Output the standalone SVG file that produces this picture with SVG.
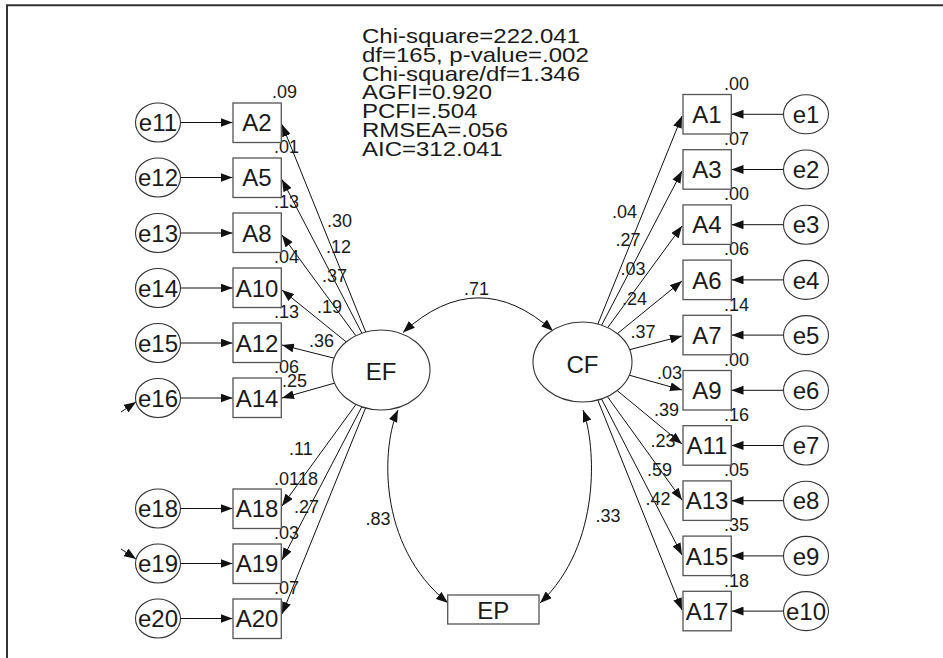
<svg xmlns="http://www.w3.org/2000/svg" width="943" height="658" viewBox="0 0 943 658">
<style>
text{font-family:"Liberation Sans",Arial,sans-serif;fill:#1a1a1a}
.box{fill:#fff;stroke:#555;stroke-width:1.3}
.ell{fill:#fff;stroke:#333;stroke-width:1.1}
.nl{font-size:24px;text-anchor:middle}
.num{font-size:18px}
.stat{font-size:20px}
.ln{fill:none;stroke:#111;stroke-width:1}
</style>
<defs>
<marker id="ah" viewBox="0 0 12 9" markerWidth="12" markerHeight="9" refX="12" refY="4.5" orient="auto-start-reverse" markerUnits="userSpaceOnUse">
<path d="M0,0 L12,4.5 L0,9 z" fill="#111"/>
</marker>
</defs>
<rect width="943" height="658" fill="#fff"/>
<g id="frame" stroke="#333" stroke-width="2" fill="none">
<path d="M7,658 V5.3 H943"/>
</g>
<g id="fit-stats" transform="translate(362,0) scale(1.2,1)">
<text class="stat" x="0" y="43">Chi-square=222.041</text>
<text class="stat" x="0" y="61.8">df=165, p-value=.002</text>
<text class="stat" x="0" y="80.6">Chi-square/df=1.346</text>
<text class="stat" x="0" y="99.4">AGFI=0.920</text>
<text class="stat" x="0" y="118.2">PCFI=.504</text>
<text class="stat" x="0" y="137">RMSEA=.056</text>
<text class="stat" x="0" y="155.8">AIC=312.041</text>
</g>
<g id="connectors">
<path class="ln" marker-end="url(#ah)" d="M180.5,122.5 H232.5"/>
<path class="ln" marker-end="url(#ah)" d="M180.5,177.5 H232.5"/>
<path class="ln" marker-end="url(#ah)" d="M180.5,233 H232.5"/>
<path class="ln" marker-end="url(#ah)" d="M180.5,288 H232.5"/>
<path class="ln" marker-end="url(#ah)" d="M180.5,343 H232.5"/>
<path class="ln" marker-end="url(#ah)" d="M180.5,398 H232.5"/>
<path class="ln" marker-end="url(#ah)" d="M180.5,508.5 H232.5"/>
<path class="ln" marker-end="url(#ah)" d="M180.5,563.5 H232.5"/>
<path class="ln" marker-end="url(#ah)" d="M180.5,618.5 H232.5"/>
<path class="ln" marker-end="url(#ah)" d="M121,412 L136,402"/>
<path class="ln" marker-end="url(#ah)" d="M121,549 L136,559"/>
<path class="ln" marker-end="url(#ah)" d="M783.5,114.3 H731.5"/>
<path class="ln" marker-end="url(#ah)" d="M783.5,169.5 H731.5"/>
<path class="ln" marker-end="url(#ah)" d="M783.5,224.7 H731.5"/>
<path class="ln" marker-end="url(#ah)" d="M783.5,279.9 H731.5"/>
<path class="ln" marker-end="url(#ah)" d="M783.5,335.1 H731.5"/>
<path class="ln" marker-end="url(#ah)" d="M783.5,390.3 H731.5"/>
<path class="ln" marker-end="url(#ah)" d="M783.5,445.5 H731.5"/>
<path class="ln" marker-end="url(#ah)" d="M783.5,500.7 H731.5"/>
<path class="ln" marker-end="url(#ah)" d="M783.5,555.9 H731.5"/>
<path class="ln" marker-end="url(#ah)" d="M783.5,611.1 H731.5"/>
<path class="ln" marker-end="url(#ah)" d="M365.7,332 L282,124.5"/>
<path class="ln" marker-end="url(#ah)" d="M361.9,333.2 L282,179.5"/>
<path class="ln" marker-end="url(#ah)" d="M355.8,335.7 L282,235"/>
<path class="ln" marker-end="url(#ah)" d="M346.2,341.9 L282,290"/>
<path class="ln" marker-end="url(#ah)" d="M334.2,358.2 L282,345"/>
<path class="ln" marker-end="url(#ah)" d="M334.7,383.1 L282,398"/>
<path class="ln" marker-end="url(#ah)" d="M356,404.4 L282,506"/>
<path class="ln" marker-end="url(#ah)" d="M361.8,406.8 L282,560"/>
<path class="ln" marker-end="url(#ah)" d="M365.6,408 L282,614"/>
<path class="ln" marker-end="url(#ah)" d="M597.9,324 L682,116"/>
<path class="ln" marker-end="url(#ah)" d="M601.7,325.1 L682,171"/>
<path class="ln" marker-end="url(#ah)" d="M607.7,327.6 L682,226"/>
<path class="ln" marker-end="url(#ah)" d="M617.4,333.6 L682,281"/>
<path class="ln" marker-end="url(#ah)" d="M629.6,349.7 L682,336"/>
<path class="ln" marker-end="url(#ah)" d="M629.3,375.2 L682,390"/>
<path class="ln" marker-end="url(#ah)" d="M617.2,390.6 L682,444"/>
<path class="ln" marker-end="url(#ah)" d="M607.4,396.6 L682,500"/>
<path class="ln" marker-end="url(#ah)" d="M601.5,398.9 L682,555"/>
<path class="ln" marker-end="url(#ah)" d="M597.8,400 L682,610"/>
<path class="ln" marker-start="url(#ah)" marker-end="url(#ah)" d="M403,332.5 Q478,264 553,331"/>
<path class="ln" marker-start="url(#ah)" marker-end="url(#ah)" d="M398,410 C382,445 376,545 448,603"/>
<path class="ln" marker-start="url(#ah)" marker-end="url(#ah)" d="M583,410 C596,445 602,545 540,603"/>
</g>
<g id="labels">
<text class="num" x="272" y="98.2">.09</text>
<text class="num" x="274" y="153.2">.01</text>
<text class="num" x="274" y="208.2">.13</text>
<text class="num" x="274" y="263.2">.04</text>
<text class="num" x="274" y="318.2">.13</text>
<text class="num" x="274" y="373.2">.06</text>
<text class="num" x="274" y="484.8">.01</text>
<text class="num" x="293" y="484.8">.18</text>
<text class="num" x="274" y="538.8">.03</text>
<text class="num" x="274" y="593.8">.07</text>
<text class="num" x="327" y="226.5">.30</text>
<text class="num" x="326" y="253.2">.12</text>
<text class="num" x="322" y="281.5">.37</text>
<text class="num" x="317" y="313.2">.19</text>
<text class="num" x="309" y="346.5">.36</text>
<text class="num" x="282" y="386.5">.25</text>
<text class="num" x="289" y="454.8">.11</text>
<text class="num" x="294" y="513.2">.27</text>
<text class="num" x="724" y="89.8">.00</text>
<text class="num" x="724" y="145">.07</text>
<text class="num" x="724" y="200.2">.00</text>
<text class="num" x="724" y="255.4">.06</text>
<text class="num" x="724" y="310.6">.14</text>
<text class="num" x="724" y="365.8">.00</text>
<text class="num" x="724" y="421">.16</text>
<text class="num" x="724" y="476.2">.05</text>
<text class="num" x="724" y="531.4">.35</text>
<text class="num" x="724" y="586.6">.18</text>
<text class="num" x="612" y="218.2">.04</text>
<text class="num" x="615.5" y="245.8">.27</text>
<text class="num" x="620.5" y="274.8">.03</text>
<text class="num" x="622" y="304.8">.24</text>
<text class="num" x="630.5" y="338.2">.37</text>
<text class="num" x="657" y="379.2">.03</text>
<text class="num" x="654" y="415.8">.39</text>
<text class="num" x="650.5" y="446.5">.23</text>
<text class="num" x="647" y="475.8">.59</text>
<text class="num" x="645.5" y="504.8">.42</text>
<text class="num" x="464" y="294.8">.71</text>
<text class="num" x="365.5" y="524.8">.83</text>
<text class="num" x="595.5" y="521.5">.33</text>
</g>
<g id="EF"><ellipse class="ell" cx="381" cy="370" rx="49" ry="40"/><text class="nl" x="381" y="380">EF</text></g>
<g id="CF"><ellipse class="ell" cx="582.5" cy="362" rx="49.5" ry="40"/><text class="nl" x="582.5" y="372.5">CF</text></g>
<g id="EP"><rect class="box" x="447.7" y="595" width="91.3" height="29"/><text class="nl" x="493.3" y="618.5">EP</text></g>
<g id="A2"><rect class="box" x="233" y="103" width="48.3" height="39.5"/><text class="nl" x="257" y="131.2">A2</text></g>
<g id="A5"><rect class="box" x="233" y="158" width="48.3" height="39.5"/><text class="nl" x="257" y="186.2">A5</text></g>
<g id="A8"><rect class="box" x="233" y="213" width="48.3" height="39.5"/><text class="nl" x="257" y="241.7">A8</text></g>
<g id="A10"><rect class="box" x="233" y="268" width="48.3" height="39.5"/><text class="nl" x="257" y="296.7">A10</text></g>
<g id="A12"><rect class="box" x="233" y="323" width="48.3" height="39.5"/><text class="nl" x="257" y="351.7">A12</text></g>
<g id="A14"><rect class="box" x="233" y="378" width="48.3" height="39.5"/><text class="nl" x="257" y="406.7">A14</text></g>
<g id="A18"><rect class="box" x="233" y="489" width="48.3" height="39.5"/><text class="nl" x="257" y="517.2">A18</text></g>
<g id="A19"><rect class="box" x="233" y="544" width="48.3" height="39.5"/><text class="nl" x="257" y="572.2">A19</text></g>
<g id="A20"><rect class="box" x="233" y="599" width="48.3" height="39.5"/><text class="nl" x="257" y="627.2">A20</text></g>
<g id="e11"><ellipse class="ell" cx="158" cy="122.5" rx="22.5" ry="19.5"/><text class="nl" x="158" y="131.2">e11</text></g>
<g id="e12"><ellipse class="ell" cx="158" cy="177.5" rx="22.5" ry="19.5"/><text class="nl" x="158" y="186.2">e12</text></g>
<g id="e13"><ellipse class="ell" cx="158" cy="233" rx="22.5" ry="19.5"/><text class="nl" x="158" y="241.7">e13</text></g>
<g id="e14"><ellipse class="ell" cx="158" cy="288" rx="22.5" ry="19.5"/><text class="nl" x="158" y="296.7">e14</text></g>
<g id="e15"><ellipse class="ell" cx="158" cy="343" rx="22.5" ry="19.5"/><text class="nl" x="158" y="351.7">e15</text></g>
<g id="e16"><ellipse class="ell" cx="158" cy="398" rx="22.5" ry="19.5"/><text class="nl" x="158" y="406.7">e16</text></g>
<g id="e18"><ellipse class="ell" cx="158" cy="508.5" rx="22.5" ry="19.5"/><text class="nl" x="158" y="517.2">e18</text></g>
<g id="e19"><ellipse class="ell" cx="158" cy="563.5" rx="22.5" ry="19.5"/><text class="nl" x="158" y="572.2">e19</text></g>
<g id="e20"><ellipse class="ell" cx="158" cy="618.5" rx="22.5" ry="19.5"/><text class="nl" x="158" y="627.2">e20</text></g>
<g id="A1"><rect class="box" x="683" y="94.5" width="48.3" height="39.5"/><text class="nl" x="707" y="123">A1</text></g>
<g id="A3"><rect class="box" x="683" y="149.7" width="48.3" height="39.5"/><text class="nl" x="707" y="178.2">A3</text></g>
<g id="A4"><rect class="box" x="683" y="204.9" width="48.3" height="39.5"/><text class="nl" x="707" y="233.4">A4</text></g>
<g id="A6"><rect class="box" x="683" y="260.1" width="48.3" height="39.5"/><text class="nl" x="707" y="288.6">A6</text></g>
<g id="A7"><rect class="box" x="683" y="315.3" width="48.3" height="39.5"/><text class="nl" x="707" y="343.8">A7</text></g>
<g id="A9"><rect class="box" x="683" y="370.5" width="48.3" height="39.5"/><text class="nl" x="707" y="399">A9</text></g>
<g id="A11"><rect class="box" x="683" y="425.7" width="48.3" height="39.5"/><text class="nl" x="707" y="454.2">A11</text></g>
<g id="A13"><rect class="box" x="683" y="480.9" width="48.3" height="39.5"/><text class="nl" x="707" y="509.4">A13</text></g>
<g id="A15"><rect class="box" x="683" y="536.1" width="48.3" height="39.5"/><text class="nl" x="707" y="564.6">A15</text></g>
<g id="A17"><rect class="box" x="683" y="591.3" width="48.3" height="39.5"/><text class="nl" x="707" y="619.8">A17</text></g>
<g id="e1"><ellipse class="ell" cx="806" cy="114.3" rx="22.5" ry="19.5"/><text class="nl" x="806" y="123">e1</text></g>
<g id="e2"><ellipse class="ell" cx="806" cy="169.5" rx="22.5" ry="19.5"/><text class="nl" x="806" y="178.2">e2</text></g>
<g id="e3"><ellipse class="ell" cx="806" cy="224.7" rx="22.5" ry="19.5"/><text class="nl" x="806" y="233.4">e3</text></g>
<g id="e4"><ellipse class="ell" cx="806" cy="279.9" rx="22.5" ry="19.5"/><text class="nl" x="806" y="288.6">e4</text></g>
<g id="e5"><ellipse class="ell" cx="806" cy="335.1" rx="22.5" ry="19.5"/><text class="nl" x="806" y="343.8">e5</text></g>
<g id="e6"><ellipse class="ell" cx="806" cy="390.3" rx="22.5" ry="19.5"/><text class="nl" x="806" y="399">e6</text></g>
<g id="e7"><ellipse class="ell" cx="806" cy="445.5" rx="22.5" ry="19.5"/><text class="nl" x="806" y="454.2">e7</text></g>
<g id="e8"><ellipse class="ell" cx="806" cy="500.7" rx="22.5" ry="19.5"/><text class="nl" x="806" y="509.4">e8</text></g>
<g id="e9"><ellipse class="ell" cx="806" cy="555.9" rx="22.5" ry="19.5"/><text class="nl" x="806" y="564.6">e9</text></g>
<g id="e10"><ellipse class="ell" cx="806" cy="611.1" rx="22.5" ry="19.5"/><text class="nl" x="806" y="619.8">e10</text></g>
</svg>
